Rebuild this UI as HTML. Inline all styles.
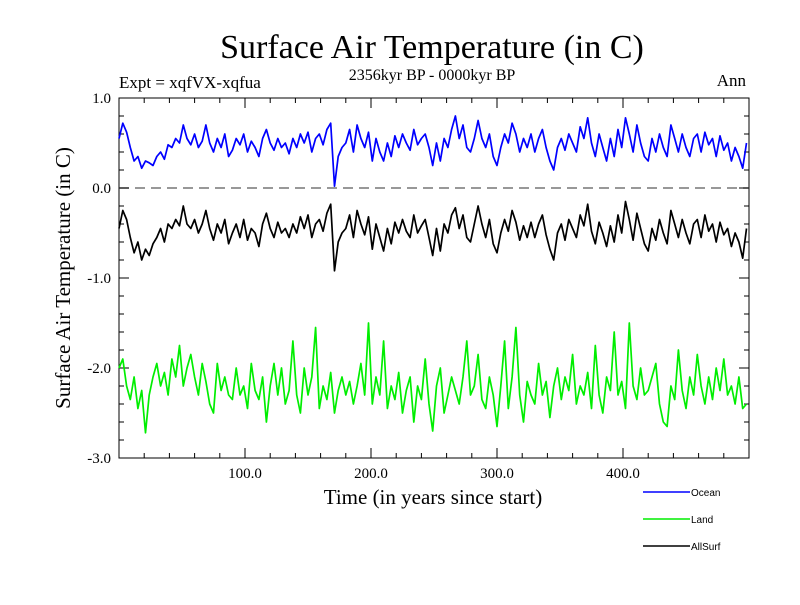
<!DOCTYPE html>
<html><head><meta charset="utf-8"><style>
body{margin:0;background:#fff}
svg text{font-family:"Liberation Serif",serif}
</style></head><body>
<svg id="chart" width="800" height="600" xmlns="http://www.w3.org/2000/svg">
<rect width="800" height="600" fill="#fff"/>
<text x="432" y="58" font-size="34" text-anchor="middle">Surface Air Temperature (in C)</text>
<text x="119" y="88" font-size="17">Expt = xqfVX-xqfua</text>
<text x="432" y="80" font-size="16" text-anchor="middle">2356kyr BP - 0000kyr BP</text>
<text x="746" y="86" font-size="17" text-anchor="end">Ann</text>
<text x="433" y="504" font-size="21" text-anchor="middle">Time (in years since start)</text>
<text transform="translate(70,278) rotate(-90)" font-size="21" text-anchor="middle">Surface Air Temperature (in C)</text>
<g id="axes"></g>
<g id="series"></g>
<g id="legend"></g>
</svg>
<script>
const ocean=[0.55,0.72,0.62,0.45,0.30,0.35,0.22,0.30,0.28,0.25,
0.35,0.40,0.32,0.48,0.45,0.55,0.50,0.70,0.55,0.48,
0.60,0.45,0.52,0.70,0.50,0.40,0.55,0.45,0.60,0.35,
0.42,0.55,0.48,0.60,0.40,0.52,0.45,0.35,0.55,0.65,
0.50,0.42,0.55,0.45,0.50,0.38,0.55,0.45,0.60,0.50,
0.62,0.40,0.55,0.60,0.48,0.65,0.72,0.02,0.35,0.45,
0.50,0.65,0.40,0.70,0.55,0.45,0.62,0.30,0.55,0.40,
0.30,0.50,0.35,0.58,0.45,0.60,0.50,0.42,0.65,0.48,
0.55,0.60,0.45,0.25,0.50,0.30,0.55,0.45,0.65,0.80,
0.55,0.70,0.45,0.40,0.55,0.75,0.55,0.45,0.60,0.35,
0.25,0.45,0.60,0.50,0.72,0.60,0.40,0.55,0.45,0.60,
0.40,0.55,0.65,0.45,0.30,0.20,0.45,0.55,0.42,0.60,
0.50,0.40,0.68,0.55,0.78,0.50,0.35,0.60,0.45,0.30,
0.55,0.35,0.65,0.45,0.78,0.60,0.40,0.70,0.50,0.35,
0.30,0.55,0.40,0.60,0.45,0.35,0.70,0.55,0.40,0.60,
0.45,0.35,0.55,0.60,0.40,0.62,0.48,0.55,0.35,0.58,
0.42,0.50,0.30,0.45,0.35,0.22,0.50];
const allsurf=[-0.45,-0.25,-0.35,-0.55,-0.72,-0.60,-0.80,-0.68,-0.75,-0.62,
-0.55,-0.45,-0.60,-0.40,-0.45,-0.35,-0.42,-0.20,-0.40,-0.45,
-0.35,-0.50,-0.40,-0.25,-0.45,-0.58,-0.40,-0.50,-0.35,-0.62,
-0.50,-0.40,-0.55,-0.35,-0.58,-0.45,-0.50,-0.65,-0.40,-0.28,
-0.45,-0.55,-0.38,-0.50,-0.45,-0.55,-0.40,-0.50,-0.32,-0.45,
-0.30,-0.55,-0.40,-0.35,-0.48,-0.28,-0.18,-0.92,-0.60,-0.50,
-0.45,-0.30,-0.55,-0.25,-0.40,-0.52,-0.32,-0.68,-0.40,-0.55,
-0.70,-0.45,-0.62,-0.38,-0.50,-0.35,-0.48,-0.55,-0.30,-0.50,
-0.42,-0.35,-0.55,-0.75,-0.45,-0.70,-0.40,-0.50,-0.30,-0.22,
-0.45,-0.30,-0.55,-0.60,-0.40,-0.20,-0.40,-0.55,-0.35,-0.62,
-0.72,-0.50,-0.35,-0.48,-0.25,-0.38,-0.58,-0.42,-0.55,-0.38,
-0.55,-0.40,-0.30,-0.52,-0.68,-0.80,-0.50,-0.40,-0.58,-0.35,
-0.45,-0.55,-0.30,-0.42,-0.18,-0.48,-0.62,-0.38,-0.50,-0.65,
-0.42,-0.60,-0.30,-0.50,-0.15,-0.35,-0.58,-0.28,-0.45,-0.62,
-0.70,-0.45,-0.58,-0.35,-0.50,-0.62,-0.25,-0.40,-0.55,-0.35,
-0.50,-0.62,-0.40,-0.35,-0.55,-0.30,-0.48,-0.40,-0.60,-0.38,
-0.52,-0.45,-0.65,-0.50,-0.60,-0.78,-0.45];
const land=[-2.0,-1.9,-2.2,-2.35,-2.1,-2.45,-2.25,-2.72,-2.3,-2.1,
-1.95,-2.2,-2.05,-2.3,-1.9,-2.1,-1.75,-2.2,-2.0,-1.85,
-2.1,-2.3,-1.95,-2.15,-2.4,-2.5,-1.95,-2.25,-2.1,-2.3,
-2.35,-2.0,-2.3,-2.2,-2.45,-1.95,-2.25,-2.35,-2.1,-2.6,
-2.2,-1.95,-2.3,-2.0,-2.4,-2.25,-1.7,-2.3,-2.5,-2.0,
-2.3,-2.1,-1.55,-2.45,-2.2,-2.35,-2.05,-2.5,-2.25,-2.1,
-2.3,-2.15,-2.4,-2.2,-1.95,-2.3,-1.5,-2.4,-2.1,-2.3,
-1.7,-2.45,-2.2,-2.35,-2.05,-2.5,-2.25,-2.1,-2.6,-2.2,
-2.35,-1.9,-2.4,-2.7,-2.2,-2.0,-2.5,-2.3,-2.1,-2.25,
-2.4,-2.1,-1.7,-2.3,-2.2,-1.85,-2.35,-2.45,-2.1,-2.3,
-2.65,-2.2,-1.7,-2.45,-2.1,-1.55,-2.3,-2.6,-2.15,-2.3,
-2.4,-1.95,-2.3,-2.15,-2.55,-2.2,-2.0,-2.35,-2.1,-2.25,
-1.85,-2.4,-2.2,-2.3,-2.05,-2.45,-1.75,-2.3,-2.5,-2.1,
-2.25,-1.6,-2.3,-2.15,-2.45,-1.5,-2.2,-2.35,-2.0,-2.3,
-2.25,-2.1,-1.95,-2.4,-2.6,-2.65,-2.2,-2.35,-1.8,-2.25,
-2.45,-2.1,-2.3,-1.85,-2.2,-2.4,-2.1,-2.35,-2.0,-2.25,
-1.9,-2.3,-2.2,-2.4,-2.1,-2.45,-2.4];
const yTicks=[1.0,0.0,-1.0,-2.0,-3.0];
const yTickLabels=["1.0","0.0","-1.0","-2.0","-3.0"];
const xTicks=[100,200,300,400];
const xTickLabels=["100.0","200.0","300.0","400.0"];
const seriesNames=["Ocean","Land","AllSurf"];
const X0=119,X1=749,Y0=98,Y1=458;
const xs=v=>X0+(v-0)/(500-0)*(X1-X0);
const ys=v=>Y0+(1-v)/(4)*(Y1-Y0);
const NS="http://www.w3.org/2000/svg";
function mk(tag,attrs,parent){const e=document.createElementNS(NS,tag);for(const k in attrs)e.setAttribute(k,attrs[k]);parent.appendChild(e);return e;}
const axes=document.getElementById('axes');
const frame=mk('rect',{x:X0,y:Y0,width:X1-X0,height:Y1-Y0,fill:'none',stroke:'#000','stroke-width':1},axes);


const zl=mk('line',{x1:X0,x2:X1,y1:ys(0),y2:ys(0),stroke:'#777','stroke-width':1.5,'stroke-dasharray':'10,6'},axes);


for(let v=-3;v<=1.001;v+=0.2){const y=ys(v);const maj=Math.abs(v-Math.round(v))<1e-6;const L=maj?10:5;
mk('line',{x1:X0,x2:X0+L,y1:y,y2:y,stroke:'#000'},axes);mk('line',{x1:X1,x2:X1-L,y1:y,y2:y,stroke:'#000'},axes);}
for(let v=20;v<500;v+=20){const x=xs(v);const L=(v%100===0)?10:5;
mk('line',{x1:x,x2:x,y1:Y1,y2:Y1-L,stroke:'#000'},axes);mk('line',{x1:x,x2:x,y1:Y0,y2:Y0+L,stroke:'#000'},axes);}
yTicks.forEach((v,i)=>{const t=mk('text',{x:111,y:ys(v)+5,'font-size':15,'text-anchor':'end'},axes);t.textContent=yTickLabels[i];

});
xTicks.forEach((v,i)=>{const t=mk('text',{x:xs(v),y:478,'font-size':15,'text-anchor':'middle'},axes);t.textContent=xTickLabels[i];

});
const sg=document.getElementById('series');
function draw(arr,color,name){const step=498/(arr.length-1);
const d=arr.map((v,i)=>(i?'L':'M')+xs(i*step).toFixed(1)+','+ys(v).toFixed(1)).join(' ');
const p=mk('path',{d:d,fill:'none',stroke:color,'stroke-width':1.7,'stroke-linejoin':'round'},sg);

}
draw(land,'#00ee00','land-line');
draw(allsurf,'#000','allsurf-line');
draw(ocean,'#0000ff','ocean-line');
const lg=document.getElementById('legend');
const lc=['#0000ff','#00ee00','#000'];
seriesNames.forEach((n,i)=>{const y=492+i*27;
const l=mk('line',{x1:643,x2:690,y1:y,y2:y,stroke:lc[i],'stroke-width':1.5},lg);


const t=mk('text',{x:691,y:y+4,'font-size':10,style:'font-family:"Liberation Sans",sans-serif'},lg);t.textContent=n;

});
</script>
</body></html>
